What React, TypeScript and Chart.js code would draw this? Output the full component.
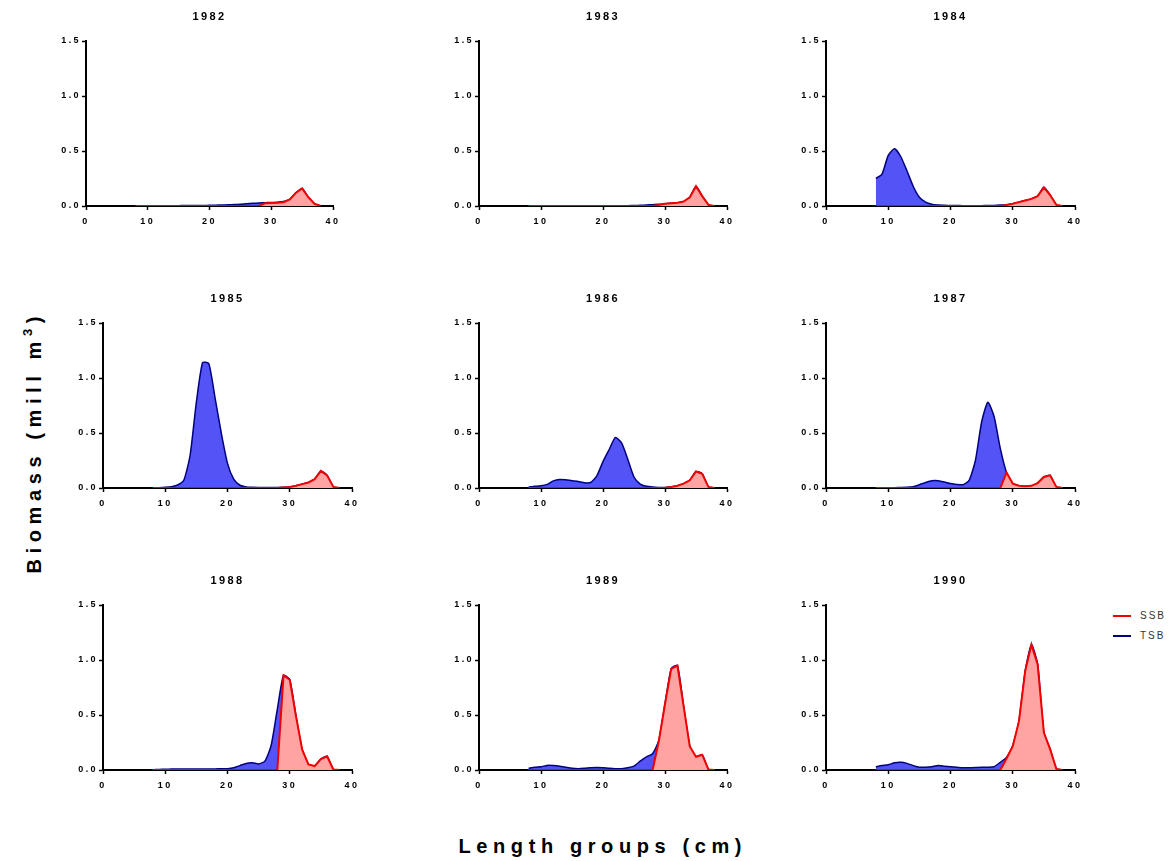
import React, { useEffect, useRef } from "react";
import { Chart, registerables } from "chart.js";

Chart.register(...registerables);

// ---------------- DATA ----------------
const lengthGroups = [8, 9, 10, 11, 12, 13, 14, 15, 16, 17, 18, 19, 20, 21, 22, 23, 24, 25, 26, 27, 28, 29, 30, 31, 32, 33, 34, 35, 36, 37, 38];

const years = ["1982", "1983", "1984", "1985", "1986", "1987", "1988", "1989", "1990"];

const xTickValues = [0, 10, 20, 30, 40];
const yTickValues = [0, 0.5, 1.0, 1.5];

//                 8      9      10     11     12     13     14     15     16     17     18     19     20     21     22     23     24     25     26     27     28     29     30     31     32     33     34     35     36     37    38
const tsb1982 = [0.001, 0.001, 0.002, 0.002, 0.002, 0.003, 0.003, 0.003, 0.004, 0.004, 0.005, 0.005, 0.006, 0.007, 0.009, 0.011, 0.013, 0.016, 0.02, 0.024, 0.027, 0.03, 0.032, 0.034, 0.04, 0.06, 0.12, 0.16, 0.08, 0.02, 0];
const ssb1982 = [0, 0, 0, 0, 0, 0, 0, 0, 0, 0, 0, 0, 0, 0, 0, 0, 0, 0, 0, 0, 0, 0.025, 0.027, 0.03, 0.035, 0.06, 0.12, 0.16, 0.08, 0.02, 0];

const tsb1983 = [0.001, 0.001, 0.001, 0.001, 0.001, 0.001, 0.001, 0.001, 0.002, 0.002, 0.002, 0.002, 0.002, 0.002, 0.003, 0.003, 0.003, 0.004, 0.006, 0.009, 0.012, 0.015, 0.02, 0.025, 0.03, 0.04, 0.08, 0.18, 0.09, 0.01, 0];
const ssb1983 = [0, 0, 0, 0, 0, 0, 0, 0, 0, 0, 0, 0, 0, 0, 0, 0, 0, 0, 0, 0, 0, 0.01, 0.02, 0.025, 0.03, 0.04, 0.08, 0.18, 0.09, 0.01, 0];

const tsb1984 = [0.25, 0.29, 0.46, 0.52, 0.45, 0.32, 0.18, 0.08, 0.035, 0.015, 0.008, 0.006, 0.005, 0.004, 0.003, 0.003, 0.003, 0.003, 0.004, 0.005, 0.008, 0.012, 0.02, 0.035, 0.05, 0.065, 0.09, 0.17, 0.1, 0.01, 0];
const ssb1984 = [0, 0, 0, 0, 0, 0, 0, 0, 0, 0, 0, 0, 0, 0, 0, 0, 0, 0, 0, 0, 0, 0.01, 0.02, 0.035, 0.05, 0.065, 0.09, 0.17, 0.1, 0.01, 0];

const tsb1985 = [0.002, 0.003, 0.006, 0.012, 0.027, 0.073, 0.3, 0.78, 1.14, 1.13, 0.82, 0.5, 0.224, 0.08, 0.025, 0.01, 0.006, 0.005, 0.005, 0.005, 0.005, 0.006, 0.01, 0.02, 0.035, 0.05, 0.08, 0.155, 0.115, 0.01, 0];
const ssb1985 = [0, 0, 0, 0, 0, 0, 0, 0, 0, 0, 0, 0, 0, 0, 0, 0, 0, 0, 0, 0, 0, 0.005, 0.01, 0.02, 0.035, 0.05, 0.08, 0.155, 0.115, 0.01, 0];

const tsb1986 = [0.01, 0.015, 0.02, 0.033, 0.065, 0.078, 0.074, 0.066, 0.06, 0.048, 0.05, 0.11, 0.24, 0.35, 0.46, 0.41, 0.26, 0.1, 0.035, 0.015, 0.008, 0.005, 0.005, 0.01, 0.02, 0.04, 0.07, 0.15, 0.13, 0.01, 0];
const ssb1986 = [0, 0, 0, 0, 0, 0, 0, 0, 0, 0, 0, 0, 0, 0, 0, 0, 0, 0, 0, 0, 0, 0, 0.003, 0.01, 0.02, 0.04, 0.07, 0.15, 0.13, 0.01, 0];

const tsb1987 = [0.002, 0.002, 0.002, 0.003, 0.004, 0.006, 0.012, 0.03, 0.05, 0.066, 0.066, 0.055, 0.04, 0.032, 0.03, 0.07, 0.25, 0.6, 0.78, 0.65, 0.36, 0.14, 0.04, 0.02, 0.015, 0.02, 0.045, 0.1, 0.115, 0.01, 0];
const ssb1987 = [0, 0, 0, 0, 0, 0, 0, 0, 0, 0, 0, 0, 0, 0, 0, 0, 0, 0, 0, 0, 0, 0.14, 0.04, 0.02, 0.015, 0.02, 0.045, 0.1, 0.115, 0.01, 0];

const tsb1988 = [0.003, 0.005, 0.007, 0.008, 0.01, 0.009, 0.008, 0.008, 0.008, 0.009, 0.01, 0.011, 0.012, 0.02, 0.04, 0.06, 0.065, 0.055, 0.08, 0.22, 0.55, 0.86, 0.82, 0.49, 0.184, 0.05, 0.036, 0.1, 0.124, 0.005, 0];
const ssb1988 = [0, 0, 0, 0, 0, 0, 0, 0, 0, 0, 0, 0, 0, 0, 0, 0, 0, 0, 0, 0, 0, 0.86, 0.82, 0.49, 0.184, 0.05, 0.036, 0.1, 0.124, 0.005, 0];

const tsb1989 = [0.015, 0.025, 0.03, 0.042, 0.04, 0.035, 0.025, 0.015, 0.012, 0.015, 0.02, 0.022, 0.02, 0.015, 0.012, 0.012, 0.02, 0.036, 0.08, 0.12, 0.148, 0.27, 0.6, 0.92, 0.95, 0.58, 0.214, 0.12, 0.139, 0.005, 0];
const ssb1989 = [0, 0, 0, 0, 0, 0, 0, 0, 0, 0, 0, 0, 0, 0, 0, 0, 0, 0, 0, 0, 0, 0.26, 0.6, 0.92, 0.95, 0.58, 0.214, 0.12, 0.139, 0.005, 0];

const tsb1990 = [0.03, 0.04, 0.048, 0.065, 0.07, 0.06, 0.04, 0.025, 0.025, 0.03, 0.04, 0.035, 0.03, 0.025, 0.02, 0.02, 0.022, 0.025, 0.025, 0.03, 0.07, 0.115, 0.22, 0.444, 0.9, 1.14, 0.96, 0.34, 0.19, 0.01, 0];
const ssb1990 = [0, 0, 0, 0, 0, 0, 0, 0, 0, 0, 0, 0, 0, 0, 0, 0, 0, 0, 0, 0, 0, 0.105, 0.217, 0.444, 0.9, 1.14, 0.96, 0.34, 0.19, 0.01, 0];

const tsbSeries = [tsb1982, tsb1983, tsb1984, tsb1985, tsb1986, tsb1987, tsb1988, tsb1989, tsb1990];
const ssbSeries = [ssb1982, ssb1983, ssb1984, ssb1985, ssb1986, ssb1987, ssb1988, ssb1989, ssb1990];

// ---------------- STYLE / LAYOUT ----------------
const FONT = "'Liberation Sans', Arial, Helvetica, sans-serif";
const RED = "#f00000";
const PINK = "#ffa3a3";
const NAVY = "#000080";
const BLUE = "#5454f6";

const rowTops = [41, 323, 605];
const PLOT_H = 165;
const colLefts = [
  [86, 479, 826],
  [103, 479, 826],
  [103, 479, 826],
];
const colRights = [
  [333, 727, 1075],
  [352, 727, 1075],
  [352, 727, 1075],
];

const AXIS_W = 40; // space reserved for y-axis
const TITLE_H = 30; // space reserved for title
const XAXIS_H = 30; // space reserved for x-axis
const PAD_R = 15;

const letterSpacingPlugin = {
  id: "letterSpacing",
  beforeLayout(chart: any) {
    chart.ctx.letterSpacing = "2.4px";
  },
  beforeDraw(chart: any) {
    chart.ctx.letterSpacing = "2.4px";
  },
};

function Panel({ idx, left, top, plotW }: { idx: number; left: number; top: number; plotW: number }) {
  const ref = useRef<HTMLCanvasElement>(null);
  const W = plotW + AXIS_W + PAD_R;
  const H = PLOT_H + TITLE_H + XAXIS_H;

  useEffect(() => {
    const tickFont = { family: FONT, size: 9, weight: "bold" as const };
    const chart = new Chart(ref.current as HTMLCanvasElement, {
      type: "line",
      data: {
        datasets: [
          {
            label: "SSB",
            data: lengthGroups.map((x, i) => ({ x, y: ssbSeries[idx][i] })),
            borderColor: RED,
            backgroundColor: PINK,
            fill: "origin",
            borderWidth: 2,
            pointRadius: 0,
            tension: 0,
          },
          {
            label: "TSB",
            data: lengthGroups.map((x, i) => ({ x, y: tsbSeries[idx][i] })),
            borderColor: NAVY,
            backgroundColor: BLUE,
            fill: "origin",
            borderWidth: 1.5,
            pointRadius: 0,
            tension: 0.2,
          },
        ],
      },
      options: {
        responsive: false,
        animation: false,
        devicePixelRatio: 1,
        events: [],
        layout: { padding: { left: 0, right: PAD_R, top: 0, bottom: 0 } },
        plugins: {
          legend: { display: false },
          tooltip: { enabled: false },
          title: {
            display: true,
            text: years[idx],
            fullSize: false,
            color: "#000",
            font: { family: FONT, size: 11, weight: "bold", lineHeight: "12px" as any },
            padding: { top: 0, bottom: TITLE_H - 12 },
          },
        },
        scales: {
          x: {
            type: "linear",
            min: 0,
            max: 40,
            afterBuildTicks: (s: any) => {
              s.ticks = xTickValues.map((v) => ({ value: v }));
            },
            afterFit: (s: any) => {
              s.height = XAXIS_H;
            },
            border: { display: true, color: "#000", width: 2 },
            grid: {
              display: true,
              drawOnChartArea: false,
              drawTicks: true,
              tickLength: 4,
              tickColor: "#000",
              tickWidth: 1.5,
              color: "#000",
            },
            ticks: {
              color: "#000",
              font: tickFont,
              padding: 6,
              maxRotation: 0,
              autoSkip: false,
              callback: (v: any) => String(v),
            },
          },
          y: {
            type: "linear",
            min: 0,
            max: 1.5,
            afterBuildTicks: (s: any) => {
              s.ticks = yTickValues.map((v) => ({ value: v }));
            },
            afterFit: (s: any) => {
              s.width = AXIS_W;
            },
            border: { display: true, color: "#000", width: 2 },
            grid: {
              display: true,
              drawOnChartArea: false,
              drawTicks: true,
              tickLength: 4,
              tickColor: "#000",
              tickWidth: 1.5,
              color: "#000",
            },
            ticks: {
              color: "#000",
              font: tickFont,
              padding: 1,
              autoSkip: false,
              callback: (v: any) => Number(v).toFixed(1),
            },
          },
        },
      },
      plugins: [letterSpacingPlugin],
    });
    return () => chart.destroy();
  }, [idx]);

  return (
    <canvas
      ref={ref}
      width={W}
      height={H}
      style={{
        position: "absolute",
        left: left - AXIS_W,
        top: top - TITLE_H,
        width: W,
        height: H,
        display: "block",
      }}
    />
  );
}

export default function App() {
  const panels: React.ReactNode[] = [];
  for (let r = 0; r < 3; r++) {
    for (let c = 0; c < 3; c++) {
      const idx = r * 3 + c;
      panels.push(
        <Panel
          key={idx}
          idx={idx}
          left={colLefts[r][c]}
          top={rowTops[r]}
          plotW={colRights[r][c] - colLefts[r][c]}
        />
      );
    }
  }
  const titleStyle: React.CSSProperties = {
    fontFamily: FONT,
    fontWeight: "bold",
    fontSize: 20,
    letterSpacing: "5.6px",
    lineHeight: 1,
    whiteSpace: "nowrap",
    color: "#000",
  };
  return (
    <div
      style={{
        position: "absolute",
        left: 0,
        top: 0,
        width: 1174,
        height: 861,
        background: "#fff",
        overflow: "hidden",
      }}
    >
      {panels}
      {/* x axis title */}
      <div style={{ position: "absolute", left: 600, top: 846, width: 0, height: 0 }}>
        <div style={{ ...titleStyle, position: "absolute", transform: "translate(-50%, -50%)", paddingLeft: 5.6 }}>
          Length groups (cm)
        </div>
      </div>
      {/* y axis title */}
      <div style={{ position: "absolute", left: 34, top: 445, width: 0, height: 0 }}>
        <div
          style={{
            ...titleStyle,
            position: "absolute",
            transform: "translate(-50%, -50%) rotate(-90deg)",
            paddingLeft: 5.6,
          }}
        >
          Biomass (mill m<sup style={{ fontSize: 13, lineHeight: 0, verticalAlign: "0.7em", letterSpacing: "5.6px" }}>3</sup>)
        </div>
      </div>
      {/* legend */}
      {[
        { label: "SSB", color: RED, y: 616 },
        { label: "TSB", color: NAVY, y: 636 },
      ].map((it) => (
        <div key={it.label}>
          <div
            style={{
              position: "absolute",
              left: 1113,
              top: it.y - 1,
              width: 18,
              height: 2,
              background: it.color,
            }}
          />
          <div
            style={{
              position: "absolute",
              left: 1140,
              top: it.y - 6,
              height: 12,
              lineHeight: "12px",
              fontFamily: FONT,
              fontSize: 10,
              letterSpacing: "2px",
              color: "#333",
              whiteSpace: "nowrap",
            }}
          >
            {it.label}
          </div>
        </div>
      ))}
    </div>
  );
}
